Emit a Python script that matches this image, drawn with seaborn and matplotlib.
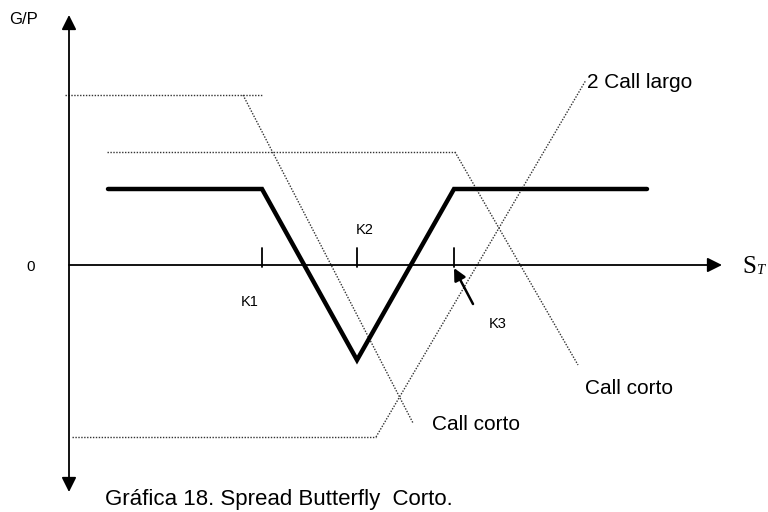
import matplotlib
matplotlib.use("Agg")
from matplotlib import pyplot as plt
import seaborn as sns
import pandas as pd

# coordinates: x = S_T, y = G/P (origin where the axes cross)
strikes = [193, 288, 385]
strike_labels = ["K1", "K2", "K3"]

payoff_x = [39, 193, 288, 385, 578]
payoff_y = [76, 76, -95, 76, 76]

# short call at K1 (dotted)
c1_flat_x = [-4, 193]
c1_flat_y = [170, 170]
c1_slope_x = [174, 344]
c1_slope_y = [170, -158]

# short call at K3 (dotted)
c3_flat_x = [38, 386]
c3_flat_y = [113, 113]
c3_slope_x = [386, 509]
c3_slope_y = [113, -100]

# 2 long calls at K2 (dotted)
c2_flat_x = [3, 307]
c2_flat_y = [-172, -172]
c2_slope_x = [307, 517]
c2_slope_y = [-172, 185]

sns.set_style("white")
plt.rcParams['font.family'] = ['Liberation Sans', 'DejaVu Sans']
plt.rcParams['text.color'] = 'black'

fig = plt.figure(figsize=(7.68, 5.12), dpi=100)
ax = fig.add_axes([0, 0, 1, 1])
ax.set_xlim(-69, 699)
ax.set_ylim(-247, 265)
ax.axis("off")

dot = dict(color="#333333", linewidth=1.0, linestyle=(0, (1, 1.1)))
for xs, ys in [(c1_flat_x, c1_flat_y), (c1_slope_x, c1_slope_y),
               (c3_flat_x, c3_flat_y), (c3_slope_x, c3_slope_y),
               (c2_flat_x, c2_flat_y), (c2_slope_x, c2_slope_y)]:
    df = pd.DataFrame({"x": xs, "y": ys})
    sns.lineplot(data=df, x="x", y="y", sort=False, estimator=None, ax=ax, **dot)

pay = pd.DataFrame({"x": payoff_x, "y": payoff_y})
sns.lineplot(data=pay, x="x", y="y", sort=False, estimator=None, ax=ax,
             color="black", linewidth=3.2, solid_joinstyle="miter")

# axes with arrows
ax.annotate("", xy=(0, 250), xytext=(0, -227),
            arrowprops=dict(arrowstyle="<|-|>", color="black", lw=1.3,
                            mutation_scale=22, shrinkA=0, shrinkB=0))
ax.annotate("", xy=(653, 0), xytext=(0, 0),
            arrowprops=dict(arrowstyle="-|>", color="black", lw=1.3,
                            mutation_scale=22, shrinkA=0, shrinkB=0))

for k in strikes:
    ax.plot([k, k], [-2, 17], color="black", lw=1.3)

label_pos = [(250, 302), (365, 230), (498, 324)]
for lab, (px, py) in zip(strike_labels, label_pos):
    ax.text(px - 69, 265 - py, lab, fontsize=10.5, ha="center", va="center")
ax.annotate("", xy=(385, -3), xytext=(404, -39),
            arrowprops=dict(arrowstyle="-|>", color="black", lw=1.8,
                            mutation_scale=18, shrinkA=0, shrinkB=0))

ax.text(23 - 69, 265 - 20, "G/P", fontsize=12, ha="center", va="center")
ax.text(31 - 69, 265 - 267, "0", fontsize=11, ha="center", va="center")
ax.text(742 - 69, 265 - 267, "S", fontsize=18, ha="left", va="center",
        family=["Liberation Serif", "DejaVu Serif"])
ax.text(756 - 69, 265 - 271, "T", fontsize=10.5, ha="left", va="center",
        style="italic", family=["Liberation Serif", "DejaVu Serif"])

ax.text(587 - 69, 265 - 82, "2 Call largo", fontsize=15, ha="left", va="center")
ax.text(585 - 69, 265 - 388, "Call corto", fontsize=15, ha="left", va="center")
ax.text(432 - 69, 265 - 425, "Call corto", fontsize=15, ha="left", va="center")
ax.text(105 - 69, 265 - 500, "Gráfica 18. Spread Butterfly  Corto.", fontsize=16,
        ha="left", va="center")

fig.savefig("out.png", dpi=100)
